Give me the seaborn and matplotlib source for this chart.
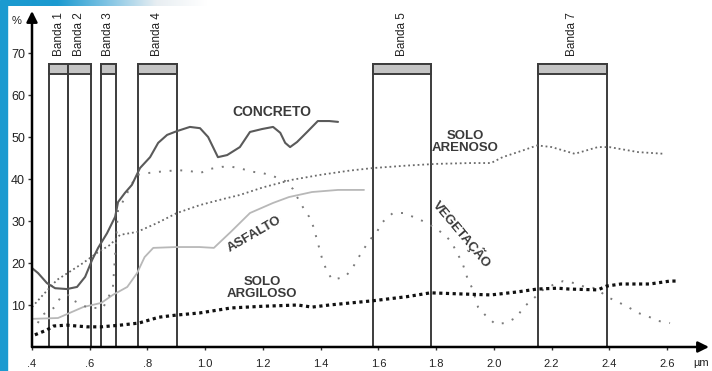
import numpy as np
import pandas as pd
import matplotlib
matplotlib.use("Agg")
import matplotlib.pyplot as plt
from matplotlib.patches import Rectangle
from matplotlib.colors import LinearSegmentedColormap
import seaborn as sns

# ---------------- data ----------------
concreto_x = [0.40, 0.421, 0.452, 0.48, 0.521, 0.556, 0.584, 0.608, 0.629, 0.66, 0.688, 0.698,
              0.722, 0.746, 0.774, 0.809, 0.837, 0.868, 0.902, 0.947, 0.982, 1.01, 1.027,
              1.044, 1.076, 1.12, 1.155, 1.197, 1.235, 1.26, 1.277, 1.294, 1.318, 1.353,
              1.39, 1.43, 1.46]
concreto_y = [18.8, 17.6, 15.2, 14.0, 13.8, 14.3, 16.7, 20.7, 23.6, 27.1, 31.0, 34.5,
              36.7, 38.6, 42.6, 45.2, 48.6, 50.5, 51.4, 52.4, 52.1, 50.0, 47.6,
              45.2, 45.7, 47.6, 51.2, 51.9, 52.4, 51.0, 48.6, 47.6, 48.8, 51.2,
              53.8, 53.8, 53.6]

arenoso_x = [0.40, 0.438, 0.487, 0.53, 0.577, 0.625, 0.67, 0.705, 0.764, 0.833, 0.902, 0.982,
             1.06, 1.12, 1.20, 1.30, 1.40, 1.50, 1.58, 1.70, 1.80, 1.92, 1.99, 2.03, 2.10,
             2.15, 2.20, 2.28, 2.36, 2.40, 2.50, 2.59]
arenoso_y = [9.5, 12.4, 16.0, 17.9, 20.0, 22.4, 24.3, 26.7, 27.4, 29.5, 31.9, 33.8,
             35.2, 36.2, 38.0, 39.8, 41.0, 42.0, 42.6, 43.2, 43.6, 43.8, 43.8, 45.2, 46.8,
             48.0, 47.6, 46.0, 47.6, 47.6, 46.4, 46.0]

vegetacao_x = [0.42, 0.435, 0.48, 0.50, 0.53, 0.54, 0.595, 0.646, 0.68, 0.69, 0.698, 0.722,
               0.74, 0.764, 0.80, 0.837, 0.906, 0.947, 0.982, 1.017, 1.058, 1.093, 1.128,
               1.166, 1.20, 1.235, 1.277, 1.304, 1.32, 1.34, 1.36, 1.375, 1.39, 1.405,
               1.42, 1.44, 1.485, 1.51, 1.53, 1.547, 1.57, 1.595, 1.61, 1.65, 1.685, 1.72,
               1.76, 1.797, 1.83, 1.855, 1.87, 1.89, 1.91, 1.925, 1.945, 1.97, 2.004, 2.04,
               2.08, 2.10, 2.135, 2.17, 2.205, 2.24, 2.28, 2.315, 2.354, 2.39, 2.43, 2.465,
               2.50, 2.54, 2.57, 2.61]
vegetacao_y = [5.7, 7.6, 9.5, 12.0, 12.4, 11.2, 9.3, 9.3, 14.0, 24.0, 32.6, 35.5,
               38.1, 41.0, 41.4, 41.7, 42.1, 41.9, 41.4, 42.4, 42.9, 42.9, 42.4,
               41.7, 41.4, 40.7, 39.5, 37.6, 35.5, 33.1, 31.0, 28.6, 24.8, 21.0,
               18.3, 16.0, 16.7, 18.8, 21.2, 23.1, 25.5, 27.4, 29.5, 31.9, 31.9, 31.0,
               29.8, 28.3, 26.7, 24.8, 22.6, 20.2, 16.0, 14.0, 9.5, 7.6, 5.5, 5.7,
               7.1, 9.3, 11.4, 13.6, 14.8, 15.7, 15.2, 14.3, 14.0, 12.0, 10.7, 9.5,
               8.1, 7.1, 6.2, 5.7]

asfalto_x = [0.40, 0.49, 0.577, 0.64, 0.68, 0.73, 0.764, 0.79, 0.82, 0.90, 0.98, 1.03,
             1.09, 1.155, 1.235, 1.29, 1.37, 1.46, 1.55]
asfalto_y = [6.7, 6.9, 9.5, 10.5, 12.4, 14.3, 17.6, 21.4, 23.6, 23.8, 23.8, 23.6,
             27.5, 31.9, 34.3, 35.7, 36.9, 37.4, 37.4]

argiloso_x = [0.41, 0.45, 0.475, 0.52, 0.59, 0.64, 0.705, 0.77, 0.84, 0.90, 0.98, 1.09,
              1.20, 1.32, 1.37, 1.43, 1.58, 1.70, 1.78, 1.90, 1.99, 2.08, 2.15, 2.22,
              2.26, 2.36, 2.39, 2.44, 2.54, 2.61, 2.64]
argiloso_y = [2.9, 4.0, 5.0, 5.2, 4.8, 4.8, 5.2, 5.7, 7.1, 7.6, 8.1, 9.3,
              9.7, 10.0, 9.5, 10.0, 11.0, 12.0, 12.9, 12.6, 12.4, 13.1, 13.8, 14.0,
              13.8, 13.6, 14.5, 15.0, 15.0, 15.7, 15.7]

band_names = ["Banda 1", "Banda 2", "Banda 3", "Banda 4", "Banda 5", "Banda 7"]
band_start = [0.46, 0.524, 0.638, 0.768, 1.58, 2.151]
band_end = [0.524, 0.603, 0.69, 0.901, 1.783, 2.392]
band_top = 67.3
band_cap = 65.0

x_ticks = [0.4, 0.6, 0.8, 1.0, 1.2, 1.4, 1.6, 1.8, 2.0, 2.2, 2.4, 2.6]
x_ticklabels = [".4", ".6", ".8", "1.0", "1.2", "1.4", "1.6", "1.8", "2.0", "2.2", "2.4", "2.6"]
y_ticks = [10, 20, 30, 40, 50, 60, 70]

# ---------------- figure ----------------
sns.set_style("white")
plt.rcParams['font.family'] = ['Liberation Sans', 'DejaVu Sans']

W, H = 712, 371
fig = plt.figure(figsize=(W / 100, H / 100), dpi=100)
fig.patch.set_facecolor("white")

# slide decoration (blue border)
fig.patches.append(Rectangle((0, 0), 7 / W, 1, transform=fig.transFigure,
                             color="#1b9ad0", zorder=0))
gax = fig.add_axes([7 / W, 1 - 6 / H, 200 / W, 6 / H])
grad = np.linspace(0, 1, 256)[None, :]
cm = LinearSegmentedColormap.from_list("g", ["#1b9ad0", "#1b9ad0", "#7fc3e3", "#e8eef2", "#ffffff"])
gax.imshow(grad, aspect="auto", cmap=cm, extent=[0, 1, 0, 1])
gax.axis("off")

ax = fig.add_axes([32 / W, 24 / H, 677 / W, 336 / H])
ax.set_xlim(0.4, 2.745)
ax.set_ylim(0, 80)
for s in ax.spines.values():
    s.set_visible(False)

# bands
widths = [e - s for s, e in zip(band_start, band_end)]
ax.bar(band_start, [band_top] * len(band_start), width=widths, align="edge",
       facecolor="none", edgecolor="#3c3c3c", linewidth=1.4, zorder=3)
ax.bar(band_start, [band_top - band_cap] * len(band_start), width=widths, bottom=band_cap,
       align="edge", facecolor="#c4c4c4", edgecolor="#3c3c3c", linewidth=1.4, zorder=3)
for name, s, e in zip(band_names, band_start, band_end):
    ax.text((s + e) / 2, 69.2, name, rotation=90, ha="center", va="bottom",
            fontsize=8.5, color="#222222", clip_on=False)

# curves
sns.lineplot(x=asfalto_x, y=asfalto_y, ax=ax, estimator=None, color="#b8b8b8",
             linewidth=1.3, zorder=4)
sns.lineplot(x=arenoso_x, y=arenoso_y, ax=ax, estimator=None, color="#6a6a6a",
             linewidth=1.3, linestyle=(0, (1, 1.6)), zorder=4)
sns.lineplot(x=vegetacao_x, y=vegetacao_y, ax=ax, estimator=None, color="#7a7a7a",
             linewidth=1.4, linestyle=(0, (1, 4.5)), zorder=4)
sns.lineplot(x=concreto_x, y=concreto_y, ax=ax, estimator=None, color="#5a5a5a",
             linewidth=1.5, zorder=5)
sns.lineplot(x=argiloso_x, y=argiloso_y, ax=ax, estimator=None, color="#111111",
             linewidth=2.3, linestyle=(0, (1, 1.1)), dash_capstyle="butt", zorder=5)

# labels of curves
lab = dict(fontsize=10, color="#3a3a3a", fontweight="bold", ha="center", va="center")
ax.text(1.232, 56.0, "CONCRETO", **lab)
ax.text(1.90, 48.8, "SOLO\nARENOSO", linespacing=0.95, **{**lab, "fontsize": 9.5})
ax.text(1.169, 26.9, "ASFALTO", rotation=30, **{**lab, "fontsize": 9.5})
ax.text(1.89, 26.9, "VEGETAÇÃO", rotation=-50, **{**lab, "fontsize": 9.5})
ax.text(1.197, 14.0, "SOLO\nARGILOSO", linespacing=0.95, **{**lab, "fontsize": 9.5})

# axes with arrows
ax.annotate("", xy=(2.745, 0), xytext=(0.4, 0), xycoords="data",
            arrowprops=dict(arrowstyle="-|>", color="black", lw=1.8, mutation_scale=16,
                            shrinkA=0, shrinkB=0), annotation_clip=False, zorder=6)
ax.annotate("", xy=(0.4, 80), xytext=(0.4, 0), xycoords="data",
            arrowprops=dict(arrowstyle="-|>", color="black", lw=1.8, mutation_scale=16,
                            shrinkA=0, shrinkB=0), annotation_clip=False, zorder=6)

ax.set_xticks(x_ticks)
ax.set_xticklabels(x_ticklabels)
ax.set_yticks(y_ticks)
ax.set_yticklabels([str(v) for v in y_ticks])
ax.tick_params(axis="x", bottom=True, length=2, width=1, pad=6.5, labelsize=8,
               color="#333333", labelcolor="#222222")
ax.tick_params(axis="y", left=True, length=3, width=1, pad=2, labelsize=9,
               color="#333333", labelcolor="#222222")

fig.text(17 / W, 1 - 21 / H, "%", fontsize=8, ha="center", va="center", color="#222222")
fig.text(701 / W, 1 - 363 / H, "µm", fontsize=8, ha="center", va="center", color="#222222")

fig.savefig("out.png", dpi=100, facecolor="white")
